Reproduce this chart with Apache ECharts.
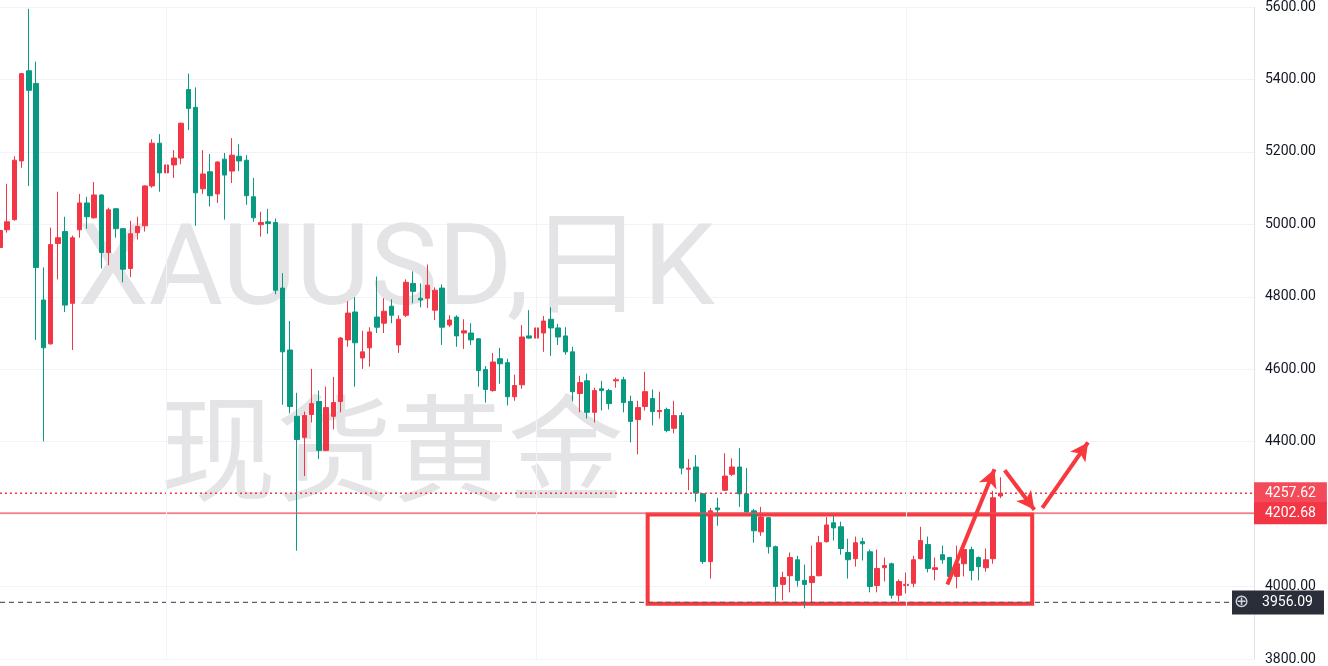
<!DOCTYPE html>
<html><head><meta charset="utf-8">
<script src="https://cdn.jsdelivr.net/npm/echarts@6/dist/echarts.min.js"></script>
<style>html,body{margin:0;padding:0;background:#fff;overflow:hidden}#c{width:1328px;height:666px}</style>
</head><body><div id="c"></div>
<script>
// ---- data ----
const opens = [4936,4985,5013,5175,5424,5389,4791,4670,4947,4980,4782,4985,5059,5018,5081,4922,5043,4988,4878,4977,
4996,5106,5224,5142,5164,5183,5372,5323,5098,5145,5084,5180,5147,5188,5177,5076,4999,5007,5005,4824,
4653,4470,4412,4475,4511,4376,4470,4511,4681,4758,4631,4659,4744,4727,4774,4667,4749,4837,4796,4796,
4763,4824,4722,4744,4700,4700,4684,4599,4541,4629,4618,4524,4557,4692,4686,4700,4738,4714,4692,4648,
4533,4568,4481,4546,4541,4568,4571,4511,4461,4497,4519,4483,4489,4437,4472,4324,4330,4256,4069,4217,
4266,4310,4330,4256,4209,4151,4190,4110,4006,4030,4074,4017,4011,4030,4124,4176,4165,4094,4077,4124,
4096,4003,4052,4063,3976,4003,4009,4077,4116,4047,4088,4080,4028,4063,4102,4080,4052,4077,4250];
const closes = [4983,5007,5177,5416,5370,4881,4659,4944,4963,4777,4963,5059,5021,5081,4922,5040,4988,4876,4974,4994,
5106,5224,5142,5164,5183,5279,5320,5087,5139,5079,5172,5136,5191,5175,5079,5018,5005,5002,4818,4648,
4497,4406,4472,4505,4376,4494,4508,4686,4755,4673,4648,4703,4716,4760,4749,4738,4840,4815,4791,4832,
4818,4716,4736,4692,4706,4681,4596,4544,4620,4615,4524,4555,4689,4686,4714,4733,4714,4689,4648,4538,
4563,4481,4541,4541,4505,4571,4508,4456,4494,4538,4483,4486,4431,4472,4327,4327,4258,4069,4209,4212,
4305,4330,4256,4206,4154,4192,4110,4000,4025,4080,4017,4006,4028,4121,4170,4162,4105,4074,4121,4118,
4000,4050,4058,3976,4014,4006,4074,4127,4050,4052,4074,4028,4063,4102,4044,4055,4074,4245,4257.62];
const lows = [4925,4977,5010,5156,5106,4681,4401,4668,4848,4758,4653,4963,4988,5016,4878,4887,4963,4840,4854,4958,
4980,5101,5090,5120,5128,5166,5260,4996,5084,5049,5059,5013,5114,5147,5054,5007,4966,4974,4807,4502,
4478,4099,4305,4453,4352,4374,4434,4481,4662,4552,4601,4607,4700,4700,4727,4645,4744,4782,4771,4769,
4736,4667,4716,4662,4656,4667,4552,4508,4538,4560,4500,4513,4546,4684,4681,4648,4637,4667,4640,4511,
4481,4464,4453,4486,4489,4549,4481,4398,4365,4486,4445,4464,4426,4423,4310,4266,4234,4063,4022,4168,
4264,4305,4220,4204,4121,4140,4091,3959,3962,3984,4000,3940,3956,4028,4121,4127,4088,4022,4055,4072,
3984,3984,4014,3967,3959,3981,3998,4075,4039,4017,4063,4022,3995,4028,4017,4017,4041,4063,4244];
const highs = [4995,5112,5188,5418,5595,5449,4881,4991,5090,5021,4969,5084,5076,5117,5083,5046,5045,4990,5010,5021,
5108,5235,5249,5216,5205,5281,5416,5378,5205,5194,5174,5197,5238,5221,5191,5128,5035,5043,5016,4865,
4733,4535,4483,4601,4541,4552,4579,4689,4788,4799,4706,4716,4856,4796,4793,4749,4848,4870,4837,4889,
4826,4834,4749,4749,4738,4727,4686,4609,4645,4659,4629,4585,4722,4763,4747,4747,4771,4725,4716,4662,
4582,4588,4549,4568,4546,4577,4579,4527,4513,4593,4544,4538,4494,4513,4481,4352,4363,4258,4217,4245,
4368,4354,4382,4327,4214,4220,4192,4113,4041,4094,4085,4061,4113,4140,4192,4195,4179,4132,4138,4135,
4102,4102,4080,4066,4020,4039,4085,4165,4138,4080,4113,4082,4113,4113,4110,4083,4105,4264,4302];
const totalSlots = 174;              // candles + empty space to the right
const yTickMin = 3800, yTickMax = 5600, yTickStep = 200;
const timeGridSlots = [23, 74, 125];  // vertical grid lines (slot index)
const lastPrice = 4257.62;
const levelPrice = 4202.68;
const crossPrice = 3956.09;
const boxCorners = [[89.35, 4198.7], [142.4, 3952.8]];
const arrows = [[[130.7, 4006], [137.2, 4324]], [[138.6, 4321], [142.7, 4212]], [[143.8, 4217], [150.1, 4398]]];
const watermark = ['XAUUSD,日K', '现货黄金'];

// ---- build ----
const categories = [];
for (let i = 0; i < totalSlots; i++) categories.push(String(i));
const ohlc = opens.map((o, i) => [o, closes[i], lows[i], highs[i]]);
const RED = '#F23645', GREEN = '#089981', ANN = '#f7383d';
const lastSlot = totalSlots - 1;

function hLine(value, color, type, width, endLabel, z) {
  return {
    type: 'line', xAxisIndex: 1, z: z, silent: true, showSymbol: false, symbol: 'none',
    data: [[0, value], [lastSlot, value]],
    lineStyle: { color: color, type: type, width: width },
    itemStyle: { color: color },
    emphasis: { disabled: true },
    endLabel: endLabel
  };
}

const chart = echarts.init(document.getElementById('c'));
chart.setOption({
  animation: false,
  backgroundColor: '#ffffff',
  grid: { left: -2, right: 74, top: 5, bottom: 5, containLabel: false },
  xAxis: [{
    type: 'category', data: categories, boundaryGap: false,
    axisLine: { show: false }, axisTick: { show: false }, axisLabel: { show: false }, splitLine: { show: false }
  }, {
    type: 'value', min: 0, max: lastSlot, show: false, splitLine: { show: false }
  }],
  yAxis: {
    type: 'value', position: 'right', min: yTickMin, max: yTickMax, interval: yTickStep,
    axisLine: { show: true, onZero: false, lineStyle: { color: '#e0e3eb' } },
    axisTick: { show: false },
    axisLabel: { color: '#131722', fontFamily: 'Roboto', fontSize: 14, margin: 11, formatter: v => v.toFixed(2) },
    splitLine: { show: true, lineStyle: { color: '#f0f3fa' } }
  },
  graphic: [
    { type: 'text', z: 1, silent: true, x: 396, y: 275,
      style: { text: watermark[0], fill: '#e4e4e7', font: '114px Roboto, "Noto Sans CJK SC"', align: 'center', verticalAlign: 'middle', textAlign: 'center', textVerticalAlign: 'middle' } },
    { type: 'text', z: 1, silent: true, x: 392, y: 448,
      style: { text: watermark[1], fill: '#e4e4e7', font: '116px "Noto Sans CJK SC"', align: 'center', verticalAlign: 'middle', textAlign: 'center', textVerticalAlign: 'middle' } }
  ],
  series: [
    {
      type: 'line', xAxisIndex: 1, data: [], z: 0, silent: true,
      markLine: {
        silent: true, symbol: 'none', animation: false,
        lineStyle: { color: '#f0f3fa', type: 'solid', width: 1 },
        label: { show: false },
        data: timeGridSlots.map(s => ({ xAxis: s }))
      }
    },
    {
      type: 'candlestick', data: ohlc, barWidth: 5, z: 3,
      itemStyle: { color: RED, color0: GREEN, borderColor: RED, borderColor0: GREEN, borderWidth: 1 }
    },
    hLine(lastPrice, RED, [2, 3], 1.4, {
      show: true, distance: 0, formatter: lastPrice.toFixed(2), color: '#fff', backgroundColor: '#f34b5a',
      fontFamily: 'Roboto', fontSize: 14, padding: [4, 11, 4, 11] }, 4),
    hLine(levelPrice, '#f0505c', 'solid', 1.2, {
      show: true, distance: 0, formatter: levelPrice.toFixed(2), color: '#fff', backgroundColor: RED,
      fontFamily: 'Roboto', fontSize: 14, padding: [4, 11, 4, 11] }, 4),
    hLine(crossPrice, '#5d606b', [5, 4], 1.2, {
      show: true, distance: -22, formatter: '{i|⊕}{v|' + crossPrice.toFixed(2) + '}', backgroundColor: '#2a2e39',
      padding: [3, 11, 3, 2],
      rich: { i: { fontFamily: 'DejaVu Sans', fontSize: 18, color: '#d1d4dc', padding: [0, 13, 0, 0] },
              v: { fontFamily: 'Roboto', fontSize: 14, color: '#ffffff' } } }, 4),
    {
      type: 'line', xAxisIndex: 1, data: [], z: 5,
      markArea: {
        silent: true,
        itemStyle: { color: 'rgba(0,0,0,0)', borderColor: ANN, borderWidth: 4 },
        data: [[{ coord: boxCorners[0] }, { coord: boxCorners[1] }]]
      },
      markLine: {
        silent: true, symbol: ['none', 'arrow'], symbolSize: [14, 18], animation: false,
        lineStyle: { color: ANN, width: 4, type: 'solid' },
        label: { show: false },
        data: arrows.map(a => [{ coord: a[0] }, { coord: a[1] }])
      }
    }
  ]
});
</script></body></html>
